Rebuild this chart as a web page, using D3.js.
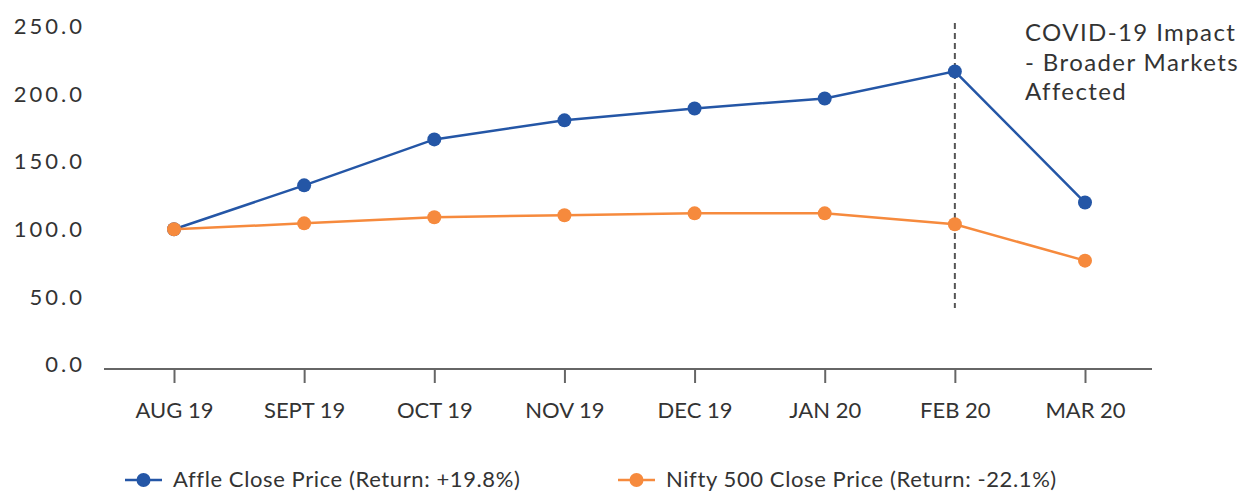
<!DOCTYPE html>
<html>
<head>
<meta charset="utf-8">
<script src="https://cdn.jsdelivr.net/npm/d3@7"></script>
<style>
body { margin: 0; background: #fff; }
text { font-family: Lato, "Open Sans", sans-serif; fill: #333; }
</style>
</head>
<body>
<div id="main_div"></div>
<script>
var months = ["AUG 19", "SEPT 19", "OCT 19", "NOV 19", "DEC 19", "JAN 20", "FEB 20", "MAR 20"];
var affle = [100, 132.5, 166.5, 180.6, 189.4, 196.8, 216.8, 119.8];
var nifty = [100, 104.4, 108.9, 110.4, 111.8, 111.8, 103.7, 76.8];
var y_ticks = [0, 50, 100, 150, 200, 250];
var series_names = ["Affle Close Price (Return: +19.8%)", "Nifty 500 Close Price (Return: -22.1%)"];
var note_lines = ["COVID-19 Impact", "- Broader Markets", "Affected"];
var event_month = "FEB 20";

var blue = "#2456a6", orange = "#f68a3d", axis_col = "#666";

var svg = d3.select("#main_div").append("svg").attr("width", 1251).attr("height", 491);

var x_scale = d3.scalePoint().domain(months).range([174, 1085]);
var y_scale = d3.scaleLinear().domain([0, 250]).range([364.5, 26.5]);

// y labels, no axis line
svg.append("g").selectAll("text").data(y_ticks).enter().append("text")
    .attr("x", 85).attr("y", function(d) { return y_scale(d); })
    .attr("dy", "0.35em").attr("text-anchor", "end")
    .style("font-size", "22px").style("letter-spacing", "3px")
    .text(function(d) { return d.toFixed(1); });

// x axis
var g_x = svg.append("g").attr("transform", "translate(0,369)")
    .call(d3.axisBottom(x_scale).tickSize(14).tickPadding(19).tickSizeOuter(0));
g_x.select(".domain").remove();
g_x.selectAll(".tick line").attr("stroke", axis_col).attr("stroke-width", 2);
g_x.selectAll(".tick text").style("font-size", "22px").style("font-family", "Lato, 'Open Sans', sans-serif").attr("fill", "#333");
svg.append("line").attr("x1", 104).attr("x2", 1152).attr("y1", 369).attr("y2", 369)
    .attr("stroke", axis_col).attr("stroke-width", 2);

// event marker
svg.append("line")
    .attr("x1", x_scale(event_month)).attr("x2", x_scale(event_month))
    .attr("y1", 23).attr("y2", 308)
    .attr("stroke", "#555").attr("stroke-width", 2).attr("stroke-dasharray", "6,4");

var note = svg.append("text").attr("x", 1025).attr("y", 41).style("font-size", "24px").style("letter-spacing", "1.4px");
note.selectAll("tspan").data(note_lines).enter().append("tspan")
    .attr("x", 1025).attr("dy", function(d, i) { return i == 0 ? 0 : 29.5; })
    .text(function(d) { return d; });

var line = d3.line()
    .x(function(d, i) { return x_scale(months[i]); })
    .y(function(d) { return y_scale(d); });

function draw_series(vals, col) {
    svg.append("path").datum(vals).attr("d", line)
        .attr("fill", "none").attr("stroke", col).attr("stroke-width", 2.5);
    svg.append("g").selectAll("circle").data(vals).enter().append("circle")
        .attr("cx", function(d, i) { return x_scale(months[i]); })
        .attr("cy", function(d) { return y_scale(d); })
        .attr("r", 7).attr("fill", col);
}
draw_series(affle, blue);
draw_series(nifty, orange);

// legend
var legend = [{x: 125, c: blue}, {x: 618, c: orange}];
legend.forEach(function(l, i) {
    var g = svg.append("g").attr("transform", "translate(" + l.x + ",480)");
    g.append("line").attr("x1", 0).attr("x2", 37).attr("stroke", l.c).attr("stroke-width", 2.5);
    g.append("circle").attr("cx", 18.5).attr("r", 7).attr("fill", l.c);
    g.append("text").attr("x", 48).attr("dy", "0.33em").style("font-size", "22px").style("letter-spacing", "0.6px").text(series_names[i]);
});
</script>
</body>
</html>
